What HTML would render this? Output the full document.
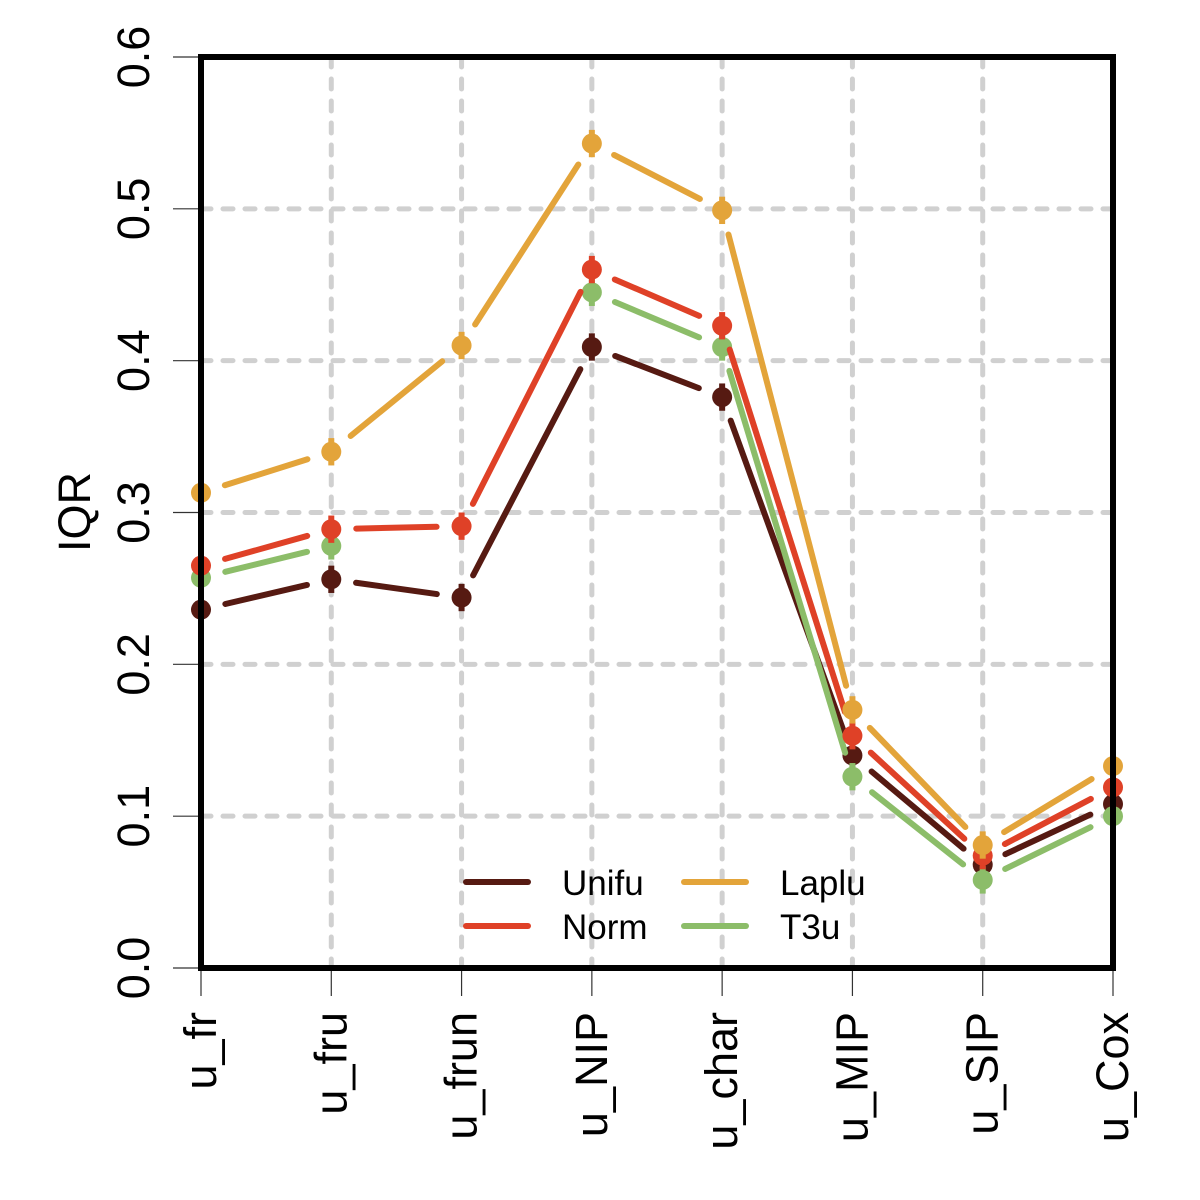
<!DOCTYPE html>
<html><head><meta charset="utf-8"><style>body{margin:0;background:#fff}svg{display:block}</style></head><body>
<svg id="chart" width="1200" height="1200" viewBox="0 0 1200 1200" xmlns="http://www.w3.org/2000/svg" font-family="Liberation Sans, sans-serif"></svg>
<script>
const categories = ["u_fr","u_fru","u_frun","u_NIP","u_char","u_MIP","u_SIP","u_Cox"];
const yTicks = [0.0,0.1,0.2,0.3,0.4,0.5,0.6];
const yTickLabels = ["0.0","0.1","0.2","0.3","0.4","0.5","0.6"];
const seriesNames = ["Unifu","T3u","Norm","Laplu"];
const unifu = [0.236,0.256,0.244,0.409,0.376,0.140,0.068,0.108];
const t3u = [0.257,0.278,null,0.445,0.409,0.126,0.058,0.100];
const norm = [0.265,0.289,0.291,0.460,0.423,0.153,0.074,0.119];
const laplu = [0.313,0.340,0.410,0.543,0.499,0.170,0.081,0.133];
const errHalf = 0.009;

const svg = document.getElementById('chart');
const NS = 'http://www.w3.org/2000/svg';
const L=201,R=1113,T=57,B=968;
const x = i => L + i*(R-L)/(categories.length-1);
const y = v => B - v/0.6*(B-T);
function mk(tag, attrs, parent){const e=document.createElementNS(NS,tag);for(const k in attrs)e.setAttribute(k,attrs[k]);(parent||svg).appendChild(e);return e;}

// grid
const grid = mk('g',{});


categories.forEach((c,i)=>mk('line',{x1:x(i),x2:x(i),y1:T,y2:B,stroke:'#d0d0d0','stroke-width':5,'stroke-dasharray':'10,12','stroke-linecap':'round'},grid));
yTicks.forEach(v=>mk('line',{x1:L,x2:R,y1:y(v),y2:y(v),stroke:'#d0d0d0','stroke-width':5,'stroke-dasharray':'10,12','stroke-linecap':'round'},grid));

// y axis
const yAxis = mk('g',{});


yTicks.forEach((v,i)=>{
  mk('line',{x1:173,x2:201,y1:y(v),y2:y(v),stroke:'#333','stroke-width':1.2},yAxis);
  const t=mk('text',{x:0,y:0,transform:`translate(149,${y(v)}) rotate(-90)`,'text-anchor':'middle','font-size':45,fill:'#000'},yAxis);
  t.textContent=yTickLabels[i];
});
const yt=mk('text',{transform:'translate(90,512) rotate(-90)','text-anchor':'middle','font-size':45,fill:'#000'});


yt.textContent='IQR';

// x axis
const xAxis = mk('g',{});


categories.forEach((c,i)=>{
  mk('line',{x1:x(i),x2:x(i),y1:968,y2:996,stroke:'#333','stroke-width':1.2},xAxis);
  const t=mk('text',{transform:`translate(${x(i)+15},1012) rotate(-90)`,'text-anchor':'end','font-size':45,fill:'#000'},xAxis);
  t.textContent=c;
});

// series
const colors = {Unifu:'#561a12',T3u:'#8cbd69',Norm:'#df4127',Laplu:'#e3a43a'};
const data = {Unifu:unifu,T3u:t3u,Norm:norm,Laplu:laplu};
const gap=25;
seriesNames.forEach(name=>{
  const vals=data[name], col=colors[name];
  const g=mk('g',{});
  
  
  for(let i=0;i<vals.length-1;i++){
    if(vals[i]==null||vals[i+1]==null) continue;
    const x1=x(i),y1=y(vals[i]),x2=x(i+1),y2=y(vals[i+1]);
    const d=Math.hypot(x2-x1,y2-y1); if(d<2*gap) continue;
    const ux=(x2-x1)/d,uy=(y2-y1)/d;
    mk('line',{x1:x1+ux*gap,y1:y1+uy*gap,x2:x2-ux*gap,y2:y2-uy*gap,stroke:col,'stroke-width':6,'stroke-linecap':'round'},g);
  }
  vals.forEach((v,i)=>{
    if(v==null) return;
    mk('line',{x1:x(i),x2:x(i),y1:y(v+errHalf),y2:y(v-errHalf),stroke:col,'stroke-width':6},g);
    const c=mk('circle',{cx:x(i),cy:y(v),r:10,fill:col},g);
    
    
  });
});

// frame
const frame=mk('rect',{x:L,y:T,width:R-L,height:B-T,fill:'none',stroke:'#000','stroke-width':6});



// legend
const legend=mk('g',{});


const legendItems=[["Unifu",462,882],["Norm",462,926],["Laplu",680,882],["T3u",680,926]];
legendItems.forEach(([n,lx,ly])=>{
  const e=mk('g',{},legend);
  
  
  mk('line',{x1:lx+4,x2:lx+66,y1:ly,y2:ly,stroke:colors[n],'stroke-width':6,'stroke-linecap':'round'},e);
  const t=mk('text',{x:lx+100,y:ly+13,'font-size':35,fill:'#000'},e);
  t.textContent=n;
});
</script>
</body></html>
